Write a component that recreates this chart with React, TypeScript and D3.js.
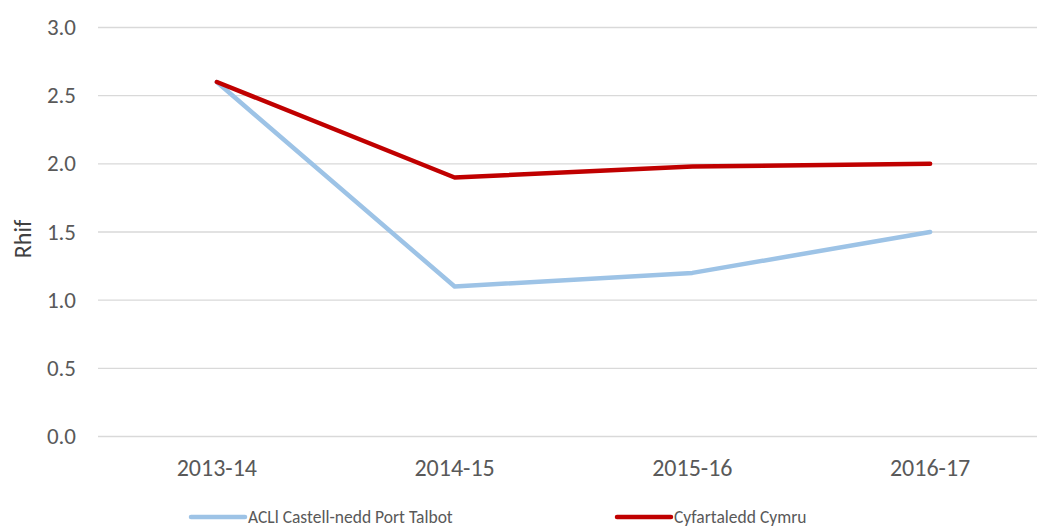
import React from 'react';
import * as d3 from 'd3';

const width = 1037;
const height = 527;
const margin = { top: 27.5, left: 98, right: -12, bottom: 90.5 };

const categories = ['2013-14', '2014-15', '2015-16', '2016-17'];
const nptValues = [2.6, 1.1, 1.2, 1.5];
const walesValues = [2.6, 1.9, 1.98, 2.0];
const yTicks = [0, 0.5, 1, 1.5, 2, 2.5, 3];

const series = [
  { name: 'ACLl Castell-nedd Port Talbot', values: nptValues, color: '#9dc3e6', legendX: 191 },
  { name: 'Cyfartaledd Cymru', values: walesValues, color: '#c00000', legendX: 617 },
];

const font = 'Calibri, Carlito, Lato, sans-serif';

function App() {
  const x = d3
    .scalePoint<string>()
    .domain(categories)
    .range([margin.left, width - margin.right])
    .padding(0.5);

  const y = d3
    .scaleLinear()
    .domain([0, 3])
    .range([height - margin.bottom, margin.top]);

  const line = d3
    .line<number>()
    .x((_, i) => x(categories[i]) as number)
    .y((d) => y(d));

  return (
    <div style={{ position: 'fixed', left: 0, top: 0 }}>
      <svg width={width} height={height} style={{ display: 'block', background: '#fff' }}>
        {/* grid + y labels */}
        {yTicks.map((t) => (
          <g key={t}>
            <line x1={margin.left} x2={width} y1={y(t)} y2={y(t)} stroke="#d9d9d9" strokeWidth={1.3} />
            <text
              x={76}
              y={y(t)}
              dy="0.33em"
              textAnchor="end"
              fontFamily={font}
              fontSize={23}
              fill="#595959"
            >
              {t.toFixed(1)}
            </text>
          </g>
        ))}

        {/* x labels */}
        {categories.map((c) => (
          <text
            key={c}
            x={x(c)}
            y={476}
            textAnchor="middle"
            fontFamily={font}
            fontSize={24}
            fill="#595959"
          >
            {c}
          </text>
        ))}

        <text
          transform="translate(31, 239) rotate(-90)"
          textAnchor="middle"
          fontFamily={font}
          fontSize={24}
          fill="#404040"
        >
          Rhif
        </text>

        {series.map((s) => (
          <path
            key={s.name}
            d={line(s.values) || ''}
            fill="none"
            stroke={s.color}
            strokeWidth={4.5}
            strokeLinejoin="round"
            strokeLinecap="round"
          />
        ))}

        {/* legend */}
        {series.map((s) => (
          <g key={s.name + '-legend'}>
            <line
              x1={s.legendX}
              x2={s.legendX + 54}
              y1={517}
              y2={517}
              stroke={s.color}
              strokeWidth={4.5}
              strokeLinecap="round"
            />
            <text
              x={s.legendX + 57}
              y={517}
              dy="0.33em"
              fontFamily={font}
              fontSize={17.5}
              fill="#595959"
            >
              {s.name}
            </text>
          </g>
        ))}
      </svg>
    </div>
  );
}

export default App;
